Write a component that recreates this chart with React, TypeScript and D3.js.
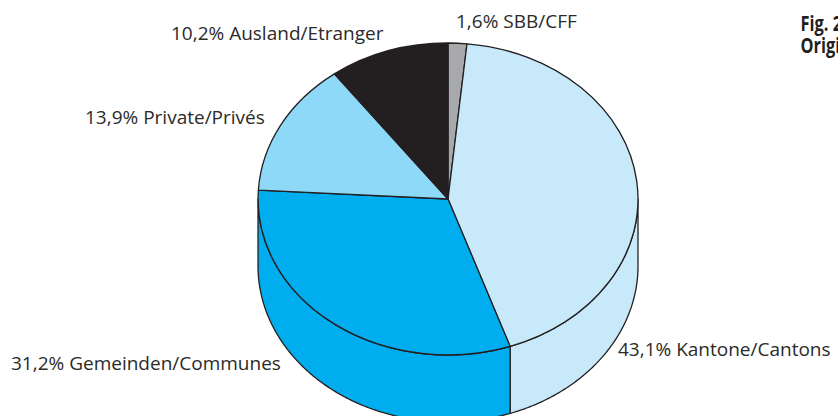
import React from "react";
import * as d3 from "d3";

const names = ["SBB/CFF", "Kantone/Cantons", "Gemeinden/Communes", "Private/Privés", "Ausland/Etranger"];
const shares = [1.6, 43.1, 31.2, 13.9, 10.2];
const colors = ["#a7a9ac", "#c7e9fa", "#00aeef", "#8ed8f8", "#231f20"];
const labelAnchors: [number, number][] = [
  [456, 28],
  [618, 356],
  [11, 370],
  [85, 124],
  [171, 40],
];
const figLines = ["Fig. 2", "Origine"];

const W = 838, H = 416;
const cx = 448, cy = 199, rx = 190, ry = 156, depth = 67;

const pie = d3.pie<number>().sort(null).value((d) => d);
const arcs = pie(shares);
const unitArc = d3.arc<d3.PieArcDatum<number>>().innerRadius(0).outerRadius(1);
const ex = d3.scaleLinear().domain([-1, 1]).range([cx - rx, cx + rx]);
const ey = d3.scaleLinear().domain([-1, 1]).range([cy - ry, cy + ry]);
const pt = (a: number, dy = 0): [number, number] => [ex(Math.sin(a)), ey(-Math.cos(a)) + dy];

function sidePath(a0: number, a1: number) {
  const from = Math.max(a0, Math.PI / 2);
  const to = Math.min(a1, (3 * Math.PI) / 2);
  if (to <= from) return null;
  const angles = d3.range(from, to, 0.01).concat(to);
  const top = angles.map((a) => pt(a));
  const bottom = angles.slice().reverse().map((a) => pt(a, depth));
  return d3.line()([...top, ...bottom]) + "Z";
}

export default function App() {
  const stroke = "#231f20";
  return (
    <svg width={W} height={H} viewBox={`0 0 ${W} ${H}`} style={{ position: "absolute", left: 0, top: 0, background: "#fff" }}>
      {arcs.map((a, i) => {
        const d = sidePath(a.startAngle, a.endAngle);
        return d ? <path key={i} d={d} fill={colors[i]} stroke={stroke} strokeWidth={1.3} strokeLinejoin="round" /> : null;
      })}
      {arcs.map((a, i) => (
        <path
          key={i}
          d={unitArc(a) ?? ""}
          transform={`translate(${cx},${cy}) scale(${rx},${ry})`}
          fill={colors[i]}
          stroke={stroke}
          strokeWidth={1.3}
          vectorEffect="non-scaling-stroke"
          strokeLinejoin="round"
        />
      ))}
      {names.map((n, i) => (
        <text
          key={n}
          x={labelAnchors[i][0]}
          y={labelAnchors[i][1]}
          fontFamily="'Open Sans', 'Noto Sans', sans-serif"
          fontSize={19}
          fill="#2b2a29"
        >
          {`${String(shares[i]).replace(".", ",")}% ${n}`}
        </text>
      ))}
      {figLines.map((t, i) => (
        <text
          key={t}
          transform={`translate(800.5,${31 + i * 22}) scale(0.78,1)`}
          fontFamily="'Open Sans', sans-serif"
          fontWeight={700}
          fontSize={21}
          fill="#231f20"
        >
          {t}
        </text>
      ))}
    </svg>
  );
}
